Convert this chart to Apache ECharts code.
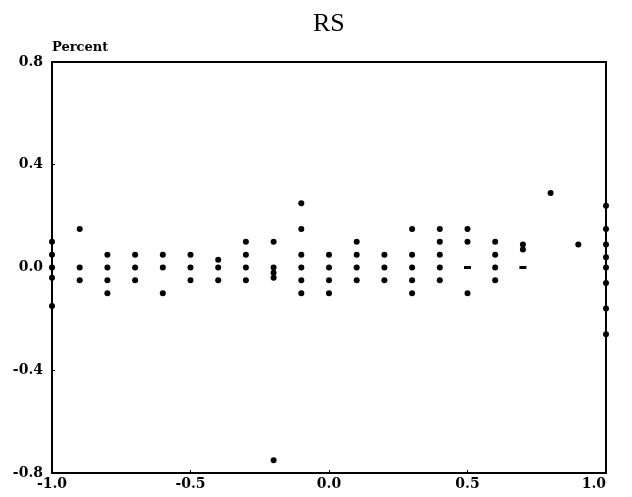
<!DOCTYPE html>
<html>
<head>
<meta charset="utf-8">
<script src="https://cdn.jsdelivr.net/npm/echarts@6/dist/echarts.min.js"></script>
<style>
  html, body { margin: 0; padding: 0; background: #fff; }
  #chart { width: 632px; height: 497px; }
</style>
</head>
<body>
<div id="chart"></div>
<script>
// Horizontal positions of the point columns
const columnX = [-1.0, -0.9, -0.8, -0.7, -0.6, -0.5, -0.4, -0.3, -0.2, -0.1,
                 0.0, 0.1, 0.2, 0.3, 0.4, 0.5, 0.6, 0.7, 0.8, 0.9, 1.0];

// Percent values found in each column (same order as columnX)
const columnValues = [
  [0.10, 0.05, 0.00, -0.04, -0.15],
  [0.15, 0.00, -0.05],
  [0.05, 0.00, -0.05, -0.10],
  [0.05, 0.00, -0.05],
  [0.05, 0.00, -0.10],
  [0.05, 0.00, -0.05],
  [0.03, 0.00, -0.05],
  [0.10, 0.05, 0.00, -0.05],
  [0.10, 0.00, -0.02, -0.04, -0.75],
  [0.25, 0.15, 0.05, 0.00, -0.05, -0.10],
  [0.05, 0.00, -0.05, -0.10],
  [0.10, 0.05, 0.00, -0.05],
  [0.05, 0.00, -0.05],
  [0.15, 0.05, 0.00, -0.05, -0.10],
  [0.15, 0.10, 0.05, 0.00, -0.05],
  [0.15, 0.10, -0.10],
  [0.10, 0.05, 0.00, -0.05],
  [0.09, 0.07],
  [0.29],
  [0.09],
  [0.24, 0.15, 0.09, 0.04, 0.00, -0.06, -0.16, -0.26]
];

// Points printed as short flat dashes
const dashX = [0.5, 0.7];
const dashY = [0.00, 0.00];

const xTicks = { min: -1.0, max: 1.0, step: 0.5 };
const yTicks = { min: -0.8, max: 0.8, step: 0.4 };

const chartTitle = 'RS';
const yAxisName = 'Percent';

const points = [];
columnX.forEach((x, i) => {
  columnValues[i].forEach(v => points.push([x, v]));
});
const dashes = dashX.map((x, i) => [x, dashY[i]]);

const labelFont = {
  fontFamily: '"DejaVu Serif", serif',
  fontWeight: 'bold',
  fontSize: 14,
  color: '#000'
};

const chart = echarts.init(document.getElementById('chart'), null, { renderer: 'canvas' });
chart.setOption({
  animation: false,
  backgroundColor: '#fff',
  title: {
    text: chartTitle,
    left: 313,
    top: 11,
    padding: 0,
    textStyle: {
      fontFamily: '"Liberation Serif", "Times New Roman", serif',
      fontWeight: 'normal',
      fontSize: 26,
      color: '#000'
    }
  },
  grid: {
    left: 52, right: 26, top: 62, bottom: 24,
    show: true,
    borderColor: '#000',
    borderWidth: 2,
    containLabel: false
  },
  xAxis: {
    type: 'value',
    min: xTicks.min, max: xTicks.max, interval: xTicks.step,
    axisLine: { onZero: false, lineStyle: { color: '#000', width: 2 } },
    axisTick: { inside: true, length: 3, lineStyle: { color: '#000', width: 1 } },
    splitLine: { show: false },
    axisLabel: Object.assign({}, labelFont, {
      margin: 4,
      alignMaxLabel: 'right',
      formatter: v => v.toFixed(1)
    })
  },
  yAxis: {
    type: 'value',
    min: yTicks.min, max: yTicks.max, interval: yTicks.step,
    name: yAxisName,
    nameLocation: 'end',
    nameGap: 8,
    nameTextStyle: {
      fontFamily: '"DejaVu Serif", serif',
      fontWeight: 'bold',
      fontSize: 13,
      color: '#000',
      align: 'left',
      verticalAlign: 'bottom'
    },
    axisLine: { onZero: false, lineStyle: { color: '#000', width: 2 } },
    axisTick: { inside: true, length: 3, lineStyle: { color: '#000', width: 1 } },
    splitLine: { show: false },
    axisLabel: Object.assign({}, labelFont, {
      margin: 9,
      formatter: v => v.toFixed(1)
    })
  },
  series: [
    {
      type: 'scatter',
      data: points,
      symbol: 'circle',
      symbolSize: 6,
      itemStyle: { color: '#000', opacity: 1 },
      clip: false
    },
    {
      type: 'scatter',
      data: dashes,
      symbol: 'rect',
      symbolSize: [7, 3],
      itemStyle: { color: '#000', opacity: 1 },
      clip: false
    }
  ]
});
</script>
</body>
</html>
